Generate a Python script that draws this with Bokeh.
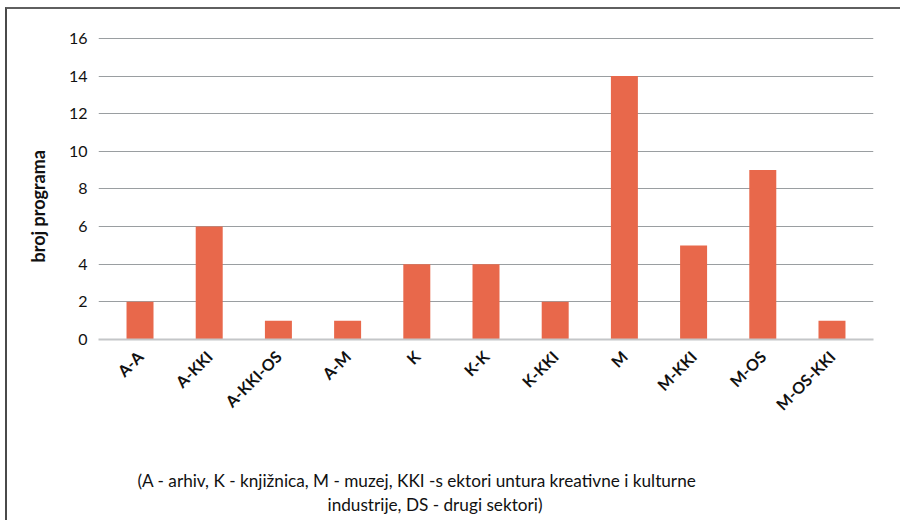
from math import pi
from bokeh.plotting import figure
from bokeh.models import FactorRange, Range1d, FixedTicker, Title
from bokeh.embed import file_html
from bokeh.resources import INLINE

categories = ["A-A", "A-KKI", "A-KKI-OS", "A-M", "K", "K-K", "K-KKI", "M", "M-KKI", "M-OS", "M-OS-KKI"]
values = [2, 6, 1, 1, 4, 4, 2, 14, 5, 9, 1]
y_ticks = [0, 2, 4, 6, 8, 10, 12, 14, 16]
y_title = "broj programa"
note_lines = ["(A - arhiv, K - knjižnica, M - muzej, KKI -s ektori untura kreativne i kulturne",
              "industrije, DS - drugi sektori)"]

FONT = "Lato"
BAR = "#E8684B"
NOTE_SIZE = "17.2px"

p = figure(x_range=FactorRange(factors=categories, range_padding=0.1, range_padding_units="absolute"),
           y_range=Range1d(0, 16.1),
           width=895, height=513, output_backend="svg", toolbar_location=None,
           min_border_left=90, min_border_right=29, min_border_top=27, min_border_bottom=183)
p.styles = {"border-top": "2px solid #5f5f5f", "border-left": "2px solid #4a4a4a",
            "margin-left": "5px", "margin-top": "7px"}

p.vbar(x=categories, top=values, width=0.39, color=BAR, line_color=None)

p.outline_line_color = None
p.xgrid.grid_line_color = None
p.ygrid.grid_line_color = "#9a9ea1"
p.ygrid.grid_line_width = 1
p.yaxis.ticker = FixedTicker(ticks=y_ticks)
p.yaxis.axis_line_color = None
p.yaxis.major_tick_line_color = None
p.yaxis.minor_tick_line_color = None
p.yaxis.major_label_text_font = FONT
p.yaxis.major_label_text_font_size = "16px"
p.yaxis.major_label_text_color = "#111111"
p.yaxis.major_label_standoff = 5

p.xaxis.axis_line_color = "#c4c6c8"
p.xaxis.axis_line_width = 2
p.xaxis.major_tick_line_color = None
p.xaxis.minor_tick_line_color = None
p.xaxis.major_label_orientation = pi / 4
p.xaxis.major_label_text_font = FONT
p.xaxis.major_label_text_font_size = "16px"
p.xaxis.major_label_text_font_style = "bold"
p.xaxis.major_label_text_color = "#111111"
p.xaxis.major_label_standoff = 8

p.add_layout(Title(text=y_title, align="left", offset=77, standoff=34,
                   text_font=FONT, text_font_size="18px", text_font_style="bold", text_color="#111111"), "left")
# invisible spacer to push the note down below the category labels
p.add_layout(Title(text="\u00a0", align="left", offset=0, standoff=21,
                   text_font=FONT, text_font_size=NOTE_SIZE, text_font_style="normal", text_color="#111111"), "below")
p.add_layout(Title(text=note_lines[0], align="left", offset=39, standoff=0,
                   text_font=FONT, text_font_size=NOTE_SIZE, text_font_style="normal", text_color="#111111"), "below")
p.add_layout(Title(text=note_lines[1], align="left", offset=229, standoff=2,
                   text_font=FONT, text_font_size=NOTE_SIZE, text_font_style="normal", text_color="#111111"), "below")

open("out.html", "w").write(file_html(p, INLINE))
